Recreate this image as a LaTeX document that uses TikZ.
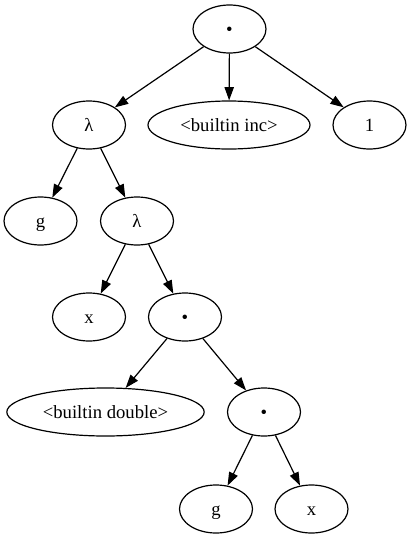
\documentclass[tikz,border=0pt]{standalone}
\usepackage{fontspec}
\setmainfont{Liberation Serif}
\usetikzlibrary{shapes.geometric,arrows.meta}

\tikzset{
  term/.style={draw, ellipse, line width=0.9pt, inner sep=0pt,
    minimum width=54.75pt, minimum height=36pt,
    text height=10pt, text depth=0pt, font=\fontsize{14pt}{16pt}\selectfont},
  edge/.style={line width=0.9pt, -{Triangle[length=10pt,width=7pt]}}
}

\begin{document}
\begin{tikzpicture}[x=0.75pt, y=-0.75pt]
    \useasboundingbox (0,0) rectangle (411,539);

    \node[term] (app) at (229.5,29) {•};
    \node[term] (lamg) at (89,125) {λ};
    \node[term, minimum width=121.5pt] (inc) at (229,125) {<builtin inc>};
    \node[term] (one) at (369.5,125) {1};

    \node[term] (g) at (40.5,221) {g};
    \node[term] (lamx) at (137,221) {λ};

    \node[term] (x) at (89,317) {x};
    \node[term] (appdbl) at (185,317) {•};

    \node[term, minimum width=148pt] (dbl) at (105.5,412) {<builtin double>};
    \node[term] (appgx) at (264,412) {•};

    \node[term] (gin) at (216,509) {g};
    \node[term] (xin) at (311.5,509) {x};

    \draw[edge] (app) -- (lamg);
    \draw[edge] (app) -- (inc);
    \draw[edge] (app) -- (one);
    \draw[edge] (lamg) -- (g);
    \draw[edge] (lamg) -- (lamx);
    \draw[edge] (lamx) -- (x);
    \draw[edge] (lamx) -- (appdbl);
    \draw[edge] (appdbl) -- (dbl);
    \draw[edge] (appdbl) -- (appgx);
    \draw[edge] (appgx) -- (gin);
    \draw[edge] (appgx) -- (xin);

  \end{tikzpicture}
\end{document}
